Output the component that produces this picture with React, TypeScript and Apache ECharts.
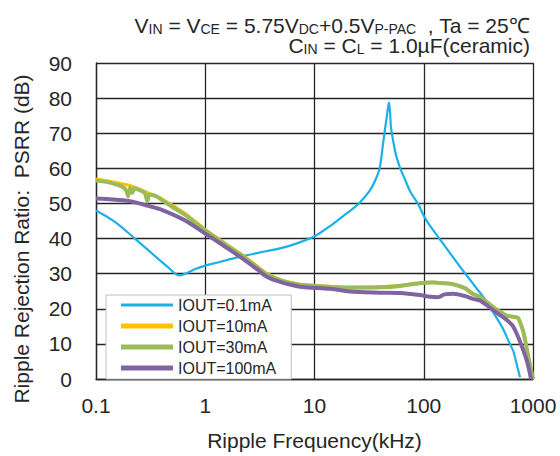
import { useEffect, useRef } from 'react';
import * as echarts from 'echarts';

const FONT = '"Liberation Sans", Arial, Helvetica, sans-serif';
const INK = '#262626';

const seriesNames = ['IOUT=0.1mA', 'IOUT=10mA', 'IOUT=30mA', 'IOUT=100mA'];
const seriesColors = ['#1CB0E8', '#FFC000', '#9BBB59', '#8064A2'];
const xTickLabels = ['0.1', '1', '10', '100', '1000'];

// IOUT = 0.1 mA
const iout01Freq = [0.1, 0.15, 0.227, 0.347, 0.45, 0.53, 0.58, 0.65, 0.81, 1, 1.23, 2.2, 3.5, 5.15, 7, 9.6, 11.5, 13.5, 17.1, 22, 26, 32.3, 36, 39.5, 42.6, 44.6, 46.5, 48, 49.2, 50, 52.7, 56, 60.9, 67, 74.9, 89, 100, 113, 150, 200, 240, 300, 380, 450, 530, 600, 660, 710, 760];
const iout01Psrr = [48, 44.7, 40, 35, 32, 30, 29.5, 29.9, 31.3, 32.3, 33, 35, 36.3, 37.4, 38.7, 40.4, 41.8, 43.3, 45.7, 48.3, 50.3, 53.8, 56.6, 60, 67.5, 72, 76, 78.8, 76, 72, 67.5, 63.5, 60, 57, 53.5, 49.8, 46.5, 43.8, 38.6, 33.3, 30, 26.1, 21.9, 18.1, 14.4, 10.7, 7.9, 4.1, 0.5];

// IOUT = 10 mA
const iout10Freq = [0.1, 0.2, 0.3, 0.4, 0.65, 1, 1.5, 2.2, 3, 3.66, 5, 7.4, 10, 14, 21, 40, 61, 92, 121, 150, 186, 240, 282, 330, 431, 500, 580, 660, 730, 815, 910, 1000];
const iout10Psrr = [57, 55.2, 53, 51.3, 47.2, 42.6, 38.8, 35.3, 32.1, 30.1, 28.2, 27, 26.7, 26.4, 26.2, 26.3, 26.7, 27.4, 27.6, 27.4, 27.1, 25.9, 24.3, 23.4, 20.6, 19.2, 18.1, 17.8, 17.4, 13.5, 6, 0];

// IOUT = 30 mA
const iout30Freq = [0.1, 0.13, 0.16, 0.18, 0.19, 0.197, 0.205, 0.215, 0.225, 0.25, 0.28, 0.295, 0.305, 0.32, 0.36, 0.4, 0.5, 0.65, 0.8, 1, 1.5, 2.2, 3, 3.66, 5, 7.4, 10, 14, 21, 40, 61, 92, 121, 150, 186, 240, 282, 330, 431, 500, 580, 660, 730, 815, 910, 1000];
const iout30Psrr = [56.5, 56, 55.2, 54.5, 53.5, 52, 54.5, 53, 54.3, 53.8, 53, 50.5, 52.5, 52.5, 52, 51, 49, 46.8, 44.6, 42.3, 38.5, 35, 31.8, 29.8, 28, 26.8, 26.5, 26.2, 26, 26.1, 26.5, 27.3, 27.5, 27.3, 27, 25.8, 24.2, 23.3, 20.5, 19.1, 18, 17.7, 17.4, 13.5, 6.1, 0];

// IOUT = 100 mA
const iout100Freq = [0.1, 0.2, 0.3, 0.4, 0.65, 1, 1.5, 2.2, 3, 3.66, 5, 7.4, 13.9, 21, 40, 61, 92, 115, 135, 155, 186, 240, 282, 330, 431, 500, 580, 660, 760, 880, 960];
const iout100Psrr = [51.4, 50.7, 49.3, 48.2, 45.2, 41.4, 37.8, 34.3, 31.2, 29.1, 27.5, 26.3, 25.7, 24.9, 24.6, 24.5, 23.9, 23.4, 23.3, 24.1, 24.3, 23.6, 22.8, 22.3, 19.6, 18.2, 16.7, 14.9, 10.7, 5.1, 0];

const zip = (xs: number[], ys: number[]) => xs.map((x, i) => [x, ys[i]]);

const seriesData = [
  zip(iout01Freq, iout01Psrr),
  zip(iout10Freq, iout10Psrr),
  zip(iout30Freq, iout30Psrr),
  zip(iout100Freq, iout100Psrr),
];
const lineWidths = [2.2, 3, 4, 4];
const smoothness = [0.3, 0.3, 0.15, 0.3];

export default function App() {
  const ref = useRef<HTMLDivElement>(null);
  useEffect(() => {
    if (!ref.current) return;
    const chart = echarts.init(ref.current, undefined, { renderer: 'svg' });
    const rich = {
      m: { fontSize: 21, fontWeight: 'normal', fontFamily: FONT, color: INK, lineHeight: 19, verticalAlign: 'bottom' },
      s: { fontSize: 14, fontWeight: 'normal', fontFamily: FONT, color: INK, lineHeight: 10, verticalAlign: 'bottom' },
    };
    chart.setOption({
      animation: false,
      backgroundColor: '#ffffff',
      title: [
        {
          text: '{m|V}{s|IN}{m| = V}{s|CE}{m| = 5.75V}{s|DC}{m|+0.5V}{s|P-PAC}{m|  , Ta = 25℃}',
          right: 30,
          top: 17,
          padding: 0,
          textStyle: { fontSize: 21, fontWeight: 'normal', fontFamily: FONT, color: INK, rich },
        },
        {
          text: '{m|C}{s|IN}{m| = C}{s|L}{m| = 1.0µF(ceramic)}',
          right: 30,
          top: 37,
          padding: 0,
          textStyle: { fontSize: 21, fontWeight: 'normal', fontFamily: FONT, color: INK, rich },
        },
      ],
      grid: { left: 96, right: 27, top: 63, bottom: 71 },
      legend: {
        left: 106,
        top: 295,
        orient: 'vertical',
        padding: [2, 15, 3, 15],
        itemWidth: 52,
        itemHeight: 5,
        itemGap: 5,
        backgroundColor: '#ffffff',
        borderColor: '#bfbfbf',
        borderWidth: 1,
        textStyle: { fontSize: 16, fontFamily: FONT, color: INK },
        data: seriesNames.map((n, i) => ({
          name: n,
          icon: i === 0 ? 'path://M0,0H52V3H0Z' : 'path://M0,0H52V5H0Z',
        })),
      },
      xAxis: {
        type: 'log',
        logBase: 10,
        min: 0.1,
        max: 1000,
        axisLine: { show: true, lineStyle: { color: INK, width: 1.3 } },
        axisTick: { show: false },
        splitLine: { show: true, lineStyle: { color: INK, width: 1.3 } },
        axisLabel: {
          fontSize: 21,
          fontFamily: FONT,
          color: INK,
          margin: 16,
          showMinLabel: true,
          showMaxLabel: true,
          formatter: (v: number) => xTickLabels[Math.round(Math.log10(v)) + 1] ?? '',
        },
        name: 'Ripple Frequency(kHz)',
        nameLocation: 'middle',
        nameGap: 51,
        nameTextStyle: { fontSize: 21, fontFamily: FONT, color: INK },
      },
      yAxis: {
        type: 'value',
        min: 0,
        max: 90,
        interval: 10,
        axisLine: { show: true, lineStyle: { color: INK, width: 1.3 } },
        axisTick: { show: false },
        splitLine: { show: true, lineStyle: { color: INK, width: 1.3 } },
        axisLabel: { fontSize: 21, fontFamily: FONT, color: INK, margin: 24 },
      },
      graphic: [
        {
          type: 'text',
          x: 21,
          y: 239,
          rotation: Math.PI / 2,
          style: {
            text: 'Ripple Rejection Ratio:  PSRR (dB)',
            fontSize: 21,
            fontFamily: FONT,
            fill: INK,
            align: 'center',
            verticalAlign: 'middle',
          },
        },
      ],
      series: seriesNames.map((n, i) => ({
        name: n,
        type: 'line',
        data: seriesData[i],
        showSymbol: false,
        symbol: 'none',
        smooth: smoothness[i],
        color: seriesColors[i],
        lineStyle: { color: seriesColors[i], width: lineWidths[i] },
        z: i === 0 ? 1 : 2 + i,
      })),
    });
    return () => chart.dispose();
  }, []);
  return <div ref={ref} style={{ position: 'fixed', left: 0, top: 0, width: 560, height: 456 }} />;
}
